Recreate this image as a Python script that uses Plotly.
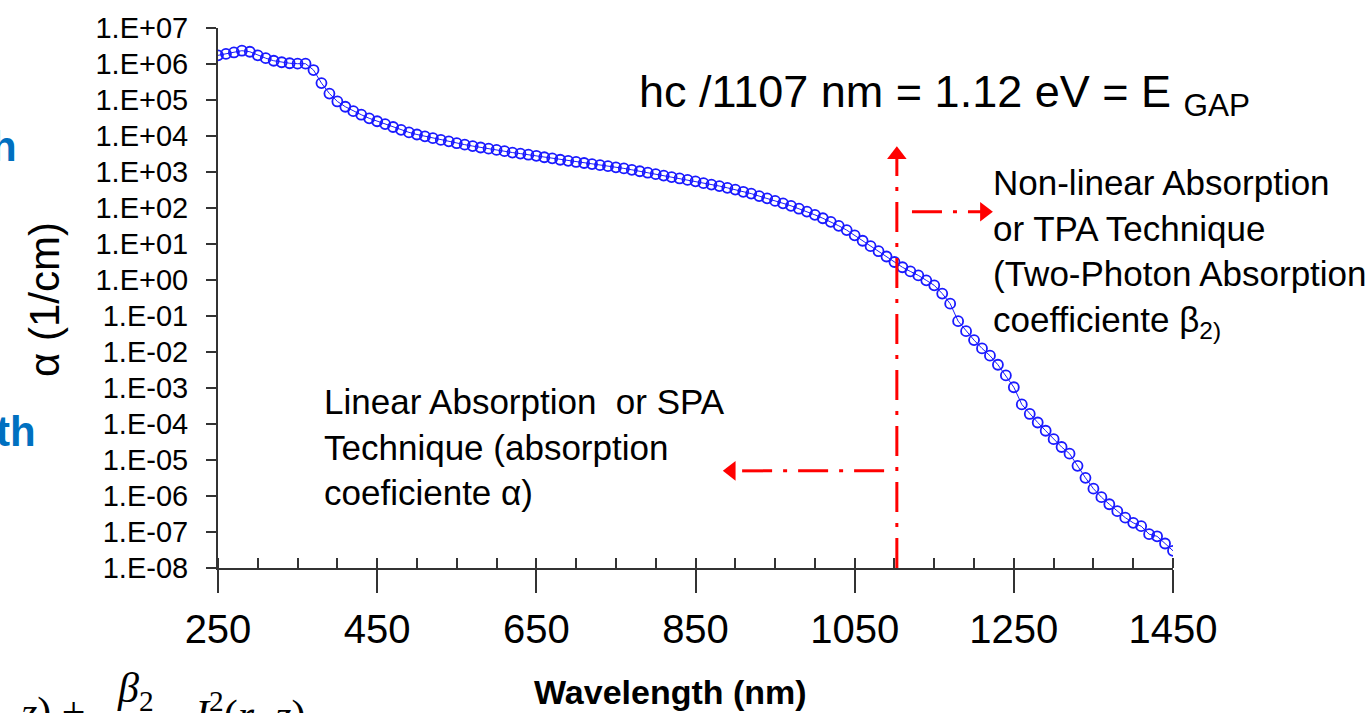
import plotly.graph_objects as go

# ---------------- data ----------------
wavelength_nm = list(range(250, 1451, 10))
alpha_per_cm = [
    1.74e6, 1.91e6, 2.09e6, 2.34e6, 2.19e6, 1.74e6, 1.45e6, 1.23e6, 1.12e6, 1.05e6,
    1.02e6, 1.02e6, 6.8e5, 2.95e5, 1.51e5, 9.1e4, 6.5e4, 4.9e4, 3.9e4, 3.1e4,
    2.57e4, 2.14e4, 1.78e4, 1.48e4, 1.26e4, 1.10e4, 9.8e3, 8.7e3, 7.8e3, 7.1e3,
    6.3e3, 5.75e3, 5.25e3, 4.8e3, 4.45e3, 4.1e3, 3.8e3, 3.47e3, 3.24e3, 3.02e3,
    2.82e3, 2.57e3, 2.4e3, 2.19e3, 2.04e3, 1.9e3, 1.78e3, 1.66e3, 1.55e3, 1.45e3,
    1.35e3, 1.26e3, 1.15e3, 1.05e3, 955, 871, 794, 724, 661, 603,
    550, 490, 447, 407, 363, 324, 282, 251, 214, 186,
    157, 135, 115, 95.5, 79.4, 64.6, 51.9, 41.2, 32.0, 24.3,
    17.4, 12.3, 8.7, 6.3, 4.5, 3.16, 2.26, 1.73, 1.34, 0.98,
    0.71, 0.42, 0.22, 0.072, 0.038, 0.0214, 0.0126, 0.0079, 0.00442, 0.00224,
    1.05e-3, 3.5e-4, 1.9e-4, 1.1e-4, 6.5e-5, 3.8e-5, 2.3e-5, 1.5e-5, 6.9e-6, 3.2e-6,
    1.6e-6, 9.3e-7, 5.9e-7, 3.8e-7, 2.5e-7, 1.8e-7, 1.45e-7, 8.7e-8, 7.6e-8, 4.8e-8,
    3.0e-8,
]

x_tick_vals = [250, 450, 650, 850, 1050, 1250, 1450]
y_tick_vals = [1e-8, 1e-7, 1e-6, 1e-5, 1e-4, 1e-3, 1e-2, 1e-1, 1e0,
               1e1, 1e2, 1e3, 1e4, 1e5, 1e6, 1e7]
y_tick_text = ["1.E-08", "1.E-07", "1.E-06", "1.E-05", "1.E-04", "1.E-03",
               "1.E-02", "1.E-01", "1.E+00", "1.E+01", "1.E+02", "1.E+03",
               "1.E+04", "1.E+05", "1.E+06", "1.E+07"]

# guide arrows (data units)
gap_line_x = 1103
gap_line_y = [1e-8, 3.0e3]
gap_head_y = 3.0e3
right_arrow_x = [1122, 1213]
right_arrow_y = 79
left_arrow_x = [1087, 895]
left_arrow_y = 5e-6

RED = "#ff0000"
BLUE = "#1a1aff"
DASH = "30px,11px,4px,11px"
FONT = "Liberation Sans, Arial, sans-serif"
SERIF = "Liberation Serif, Times New Roman, serif"

W, H = 1371, 713
L, R, T, B = 218, 198, 24, 145
PW, PH = W - L - R, H - T - B


def px(xp):
    return (xp - L) / PW


def py(yp):
    return (H - B - yp) / PH


fig = go.Figure()

fig.add_trace(go.Scatter(
    x=wavelength_nm, y=alpha_per_cm, mode="lines+markers",
    line=dict(color=BLUE, width=1),
    marker=dict(symbol="circle-open", size=10, color=BLUE, line=dict(width=1.8, color=BLUE)),
    showlegend=False, hoverinfo="x+y",
))

# vertical dash-dot line with arrow head
fig.add_trace(go.Scatter(x=[gap_line_x, gap_line_x], y=gap_line_y, mode="lines",
                         line=dict(color=RED, width=3, dash=DASH), showlegend=False))
fig.add_trace(go.Scatter(x=[gap_line_x], y=[gap_head_y], mode="markers",
                         marker=dict(symbol="triangle-up", size=17, color=RED),
                         showlegend=False))
# right arrow
fig.add_trace(go.Scatter(x=right_arrow_x, y=[right_arrow_y] * 2, mode="lines",
                         line=dict(color=RED, width=3, dash=DASH), showlegend=False))
fig.add_trace(go.Scatter(x=[right_arrow_x[1]], y=[right_arrow_y], mode="markers",
                         marker=dict(symbol="triangle-right", size=17, color=RED),
                         showlegend=False))
# left arrow
fig.add_trace(go.Scatter(x=left_arrow_x, y=[left_arrow_y] * 2, mode="lines",
                         line=dict(color=RED, width=3, dash=DASH), showlegend=False))
fig.add_trace(go.Scatter(x=[left_arrow_x[1]], y=[left_arrow_y], mode="markers",
                         marker=dict(symbol="triangle-left", size=17, color=RED),
                         showlegend=False))

annotations = [
    dict(x=px(637), y=py(91), xref="paper", yref="paper", xanchor="left", yanchor="middle",
         text="hc /1107 nm = 1.12 eV = E <sub>GAP</sub>", showarrow=False,
         font=dict(family=FONT, size=45, color="#000")),
    dict(x=px(991), y=py(251), xref="paper", yref="paper", xanchor="left", yanchor="middle",
         align="left",
         text="Non-linear Absorption<br>or TPA Technique<br>(Two-Photon Absorption<br>coefficiente β<sub>2)</sub>",
         showarrow=False, font=dict(family=FONT, size=35, color="#000")),
    dict(x=px(322), y=py(446), xref="paper", yref="paper", xanchor="left", yanchor="middle",
         align="left",
         text="Linear Absorption  or SPA<br>Technique (absorption<br>coeficiente α)",
         showarrow=False, font=dict(family=FONT, size=35, color="#000")),
    dict(x=px(45), y=py(298), xref="paper", yref="paper", xanchor="center", yanchor="middle",
         text="α (1/cm)", textangle=-90, showarrow=False,
         font=dict(family=FONT, size=42, color="#000")),
    dict(x=px(670), y=py(693), xref="paper", yref="paper", xanchor="center", yanchor="middle",
         text="<b>Wavelength (nm)</b>", showarrow=False,
         font=dict(family=FONT, size=34, color="#000")),
    # fragments of the surrounding slide
    dict(x=px(19), y=py(143), xref="paper", yref="paper", xanchor="right", yanchor="middle",
         text="<b>h</b>", showarrow=False, font=dict(family=FONT, size=42, color="#0070c0")),
    dict(x=px(38), y=py(430), xref="paper", yref="paper", xanchor="right", yanchor="middle",
         text="<b>th</b>", showarrow=False, font=dict(family=FONT, size=42, color="#0070c0")),
    dict(x=px(18), y=py(688), xref="paper", yref="paper", xanchor="left", yanchor="top",
         text="<i>z</i>) +", showarrow=False,
         font=dict(family=SERIF, size=42, color="#000")),
    dict(x=px(115), y=py(664), xref="paper", yref="paper", xanchor="left", yanchor="top",
         text="<i>β</i><sub>2</sub>", showarrow=False,
         font=dict(family=SERIF, size=42, color="#000")),
    dict(x=px(192), y=py(684), xref="paper", yref="paper", xanchor="left", yanchor="top",
         text="<i>I</i><sup>2</sup>(<i>r</i>, <i>z</i>)", showarrow=False,
         font=dict(family=SERIF, size=42, color="#000")),
]

fig.update_layout(
    width=W, height=H,
    margin=dict(l=L, r=R, t=T, b=B, pad=0),
    paper_bgcolor="white", plot_bgcolor="white",
    showlegend=False,
    annotations=annotations,
    xaxis=dict(
        range=[250, 1450], tickvals=x_tick_vals,
        ticks="outside", ticklen=23, tickwidth=1.5, tickcolor="#333",
        showline=True, linecolor="#333", linewidth=2,
        showgrid=False, zeroline=False,
        tickfont=dict(family=FONT, size=40, color="#000"),
        ticklabelstandoff=2,
        minor=dict(dtick=50, ticks="inside", ticklen=10, tickwidth=1.5, tickcolor="#333", showgrid=False),
    ),
    yaxis=dict(
        type="log", range=[-8, 7], tickvals=y_tick_vals, ticktext=y_tick_text,
        ticks="outside", ticklen=10, tickwidth=1.5, tickcolor="#333",
        showline=True, linecolor="#333", linewidth=2,
        showgrid=False, zeroline=False,
        tickfont=dict(family=FONT, size=29, color="#000"),
        ticklabelstandoff=12,
    ),
)

fig.write_html("out.html")
